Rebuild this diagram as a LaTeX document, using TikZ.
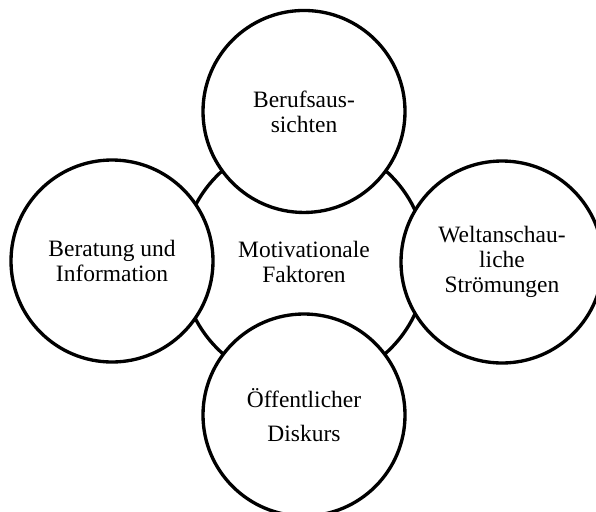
\documentclass[tikz,border=0pt]{standalone}
\usepackage{fontspec}
\setmainfont{Liberation Serif}
\usetikzlibrary{positioning}

\begin{document}
\begin{tikzpicture}[bubble/.style={circle, draw, line width=2.5pt, fill=white, align=center, inner sep=0pt, minimum size=#1, font=\fontsize{17.6}{18.75}\selectfont}, bubble/.default=151.5pt, on grid]

\useasboundingbox (0,0) rectangle (447pt,-383.25pt);
\clip (0,0) rectangle (447pt,-383.25pt);

% CENTRE

\node [bubble=183.75pt] (motiv) at (228pt,-196.5pt) {Motivationale\\Faktoren};

% FACTORS AROUND IT

\node [bubble, above=112.9pt of motiv] (beruf) {Berufsaus-\\sichten};

\node [bubble, left=144pt of motiv, yshift=0.75pt] (beratung) {Beratung und\\Information};

\node [bubble, right=148.5pt of motiv] (welt) {Weltanschau-\\liche\\Strömungen};

\node [bubble, below=114.75pt of motiv] (diskurs) {Öffentlicher\\[6.75pt]Diskurs};

\end{tikzpicture}
\end{document}
